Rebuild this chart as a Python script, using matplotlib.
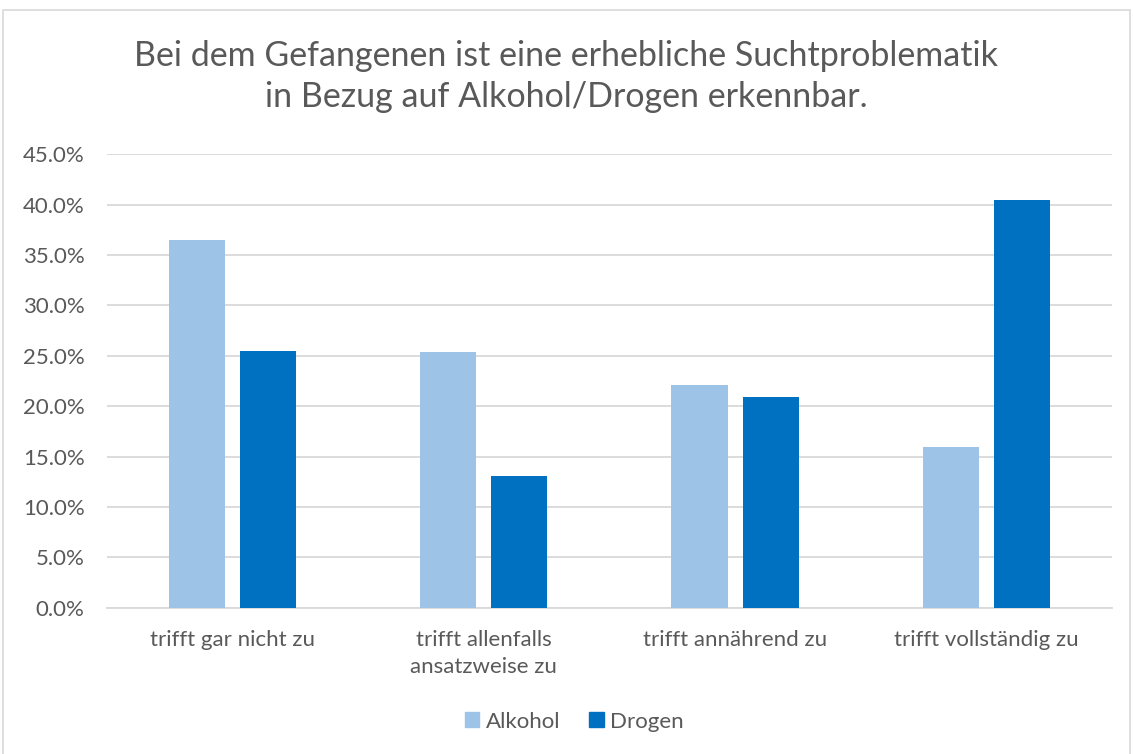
import numpy as np
import matplotlib.pyplot as plt
from matplotlib.patches import Patch, Rectangle
from matplotlib.ticker import PercentFormatter

# Data
categories = ['trifft gar nicht zu', 'trifft allenfalls\nansatzweise zu',
              'trifft annährend zu', 'trifft vollständig zu']
alkohol = [36.5, 25.4, 22.1, 16.0]
drogen = [25.5, 13.1, 20.9, 40.5]
series_names = ['Alkohol', 'Drogen']

text_color = '#595959'
grid_color = '#D9D9D9'
colors = ['#9DC3E6', '#0070C0']

plt.rcParams['font.family'] = ['Lato', 'DejaVu Sans']

fig = plt.figure(figsize=(11.33, 7.54), dpi=100)
ax = fig.add_axes([0.0944, 0.194, 0.887, 0.6013])

x = np.arange(len(categories))
width = 0.223
offset = 0.1415
ax.bar(x - offset, alkohol, width, color=colors[0], zorder=3)
ax.bar(x + offset, drogen, width, color=colors[1], zorder=3)

ax.set_xlim(-0.5, len(categories) - 0.5)
ax.set_ylim(0, 45)
ax.set_yticks(np.arange(0, 46, 5))
ax.yaxis.set_major_formatter(PercentFormatter(decimals=1))
ax.grid(axis='y', color=grid_color, linewidth=1.3, zorder=0)
for s in ['top', 'right', 'left']:
    ax.spines[s].set_visible(False)
ax.spines['bottom'].set_color(grid_color)
ax.spines['bottom'].set_linewidth(1.3)

ax.set_xticks(x)
ax.set_xticklabels(categories, fontsize=16, color=text_color, linespacing=1.45)
ax.tick_params(axis='x', length=0, pad=16)
ax.tick_params(axis='y', length=0, pad=16, labelsize=16, labelcolor=text_color)

fig.text(0.5, 0.899, 'Bei dem Gefangenen ist eine erhebliche Suchtproblematik\nin Bezug auf Alkohol/Drogen erkennbar.',
         ha='center', va='center', fontsize=24.5, color=text_color, linespacing=1.35)

handles = [Patch(color=c, label=n) for c, n in zip(colors, series_names)]
fig.legend(handles=handles, loc='center', bbox_to_anchor=(0.507, 0.043), ncol=2, frameon=False,
           fontsize=16, labelcolor=text_color, handlelength=0.65, handleheight=0.65,
           handletextpad=0.3, columnspacing=1.3)

# light frame around the chart
fig.add_artist(Rectangle((0.003, -0.01), 0.994, 0.997, transform=fig.transFigure,
                         fill=False, edgecolor='#D9D9D9', linewidth=1.2))

fig.savefig('out.png', dpi=100)
